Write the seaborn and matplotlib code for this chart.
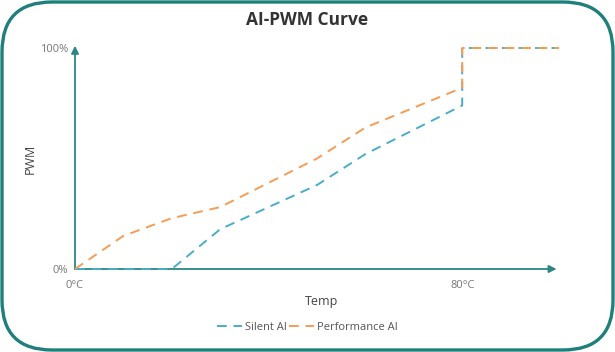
import numpy as np
import pandas as pd
import seaborn as sns
import matplotlib
matplotlib.use('Agg')
import matplotlib.pyplot as plt
from matplotlib.patches import FancyBboxPatch
from matplotlib.transforms import IdentityTransform
from matplotlib.lines import Line2D

# data (temp in degC, pwm in %)
temp = [0, 10, 20, 30, 50, 60, 80, 80, 100]
silent_pwm = [0, 0, 0, 18, 38, 52, 74, 100, 100]
perf_pwm = [0, 15, 23, 28, 50, 64, 82, 100, 100]
series_names = ['Silent AI', 'Performance AI']
x_ticks = [0, 80]
x_tick_labels = ['0°C', '80°C']
y_ticks = [0, 100]
y_tick_labels = ['0%', '100%']

df = pd.DataFrame({
    'temp': temp * 2,
    'pwm': silent_pwm + perf_pwm,
    'mode': [series_names[0]] * len(temp) + [series_names[1]] * len(temp),
})

sns.set_style('white')
plt.rcParams['font.family'] = ['Open Sans', 'DejaVu Sans']

teal = '#2b8784'
blue = '#4aadc8'
orange = '#f59c56'

fig = plt.figure(figsize=(6.15, 3.52), dpi=100)
ax = fig.add_axes([75 / 615, 83 / 352, 4.84 * 102 / 615, 221 / 352])

sns.lineplot(data=df, x='temp', y='pwm', hue='mode', palette=[blue, orange],
             estimator=None, sort=False, ax=ax, lw=1.4, legend=False)
for line in ax.lines:
    line.set_linestyle((0, (5, 3.5)))
    line.set_clip_on(False)

ax.set_xlim(0, 102)
ax.set_ylim(0, 100)
for s in ax.spines.values():
    s.set_visible(False)

# axis arrows
ax.annotate('', xy=(99.5, 0), xytext=(0, 0),
            arrowprops=dict(arrowstyle='-|>', color=teal, lw=1.3,
                            mutation_scale=11, shrinkA=0, shrinkB=0),
            annotation_clip=False, zorder=1)
ax.annotate('', xy=(0, 101), xytext=(0, 0),
            arrowprops=dict(arrowstyle='-|>', color=teal, lw=1.3,
                            mutation_scale=11, shrinkA=0, shrinkB=0),
            annotation_clip=False, zorder=1)

ax.set_xticks(x_ticks, x_tick_labels)
ax.set_yticks(y_ticks, y_tick_labels)
ax.tick_params(length=0, labelsize=8, labelcolor='#777777')
ax.tick_params(axis='x', pad=8)
ax.tick_params(axis='y', pad=5)
ax.set_xlabel('Temp', fontsize=9, color='#444444', labelpad=3)
ax.set_ylabel('PWM', fontsize=9, color='#444444', labelpad=2)

handles = [Line2D([], [], color=c, lw=1.4, ls=(0, (5, 3.5))) for c in [blue, orange]]
fig.legend(handles, series_names, loc='center', bbox_to_anchor=(0.5, 1 - 327 / 352),
           ncol=2, frameon=False, fontsize=8, handlelength=2.2, handletextpad=0.3,
           columnspacing=0.2, labelcolor='#555555')

fig.text(0.5, 1 - 20 / 352, 'AI-PWM Curve', ha='center', va='center',
         fontsize=12.5, fontweight='bold', color='#333333')

frame = FancyBboxPatch((2, 2), 611, 348, boxstyle='round,pad=0,rounding_size=50',
                       transform=IdentityTransform(), fill=False, ec='#1e7f7b', lw=2.4)
fig.patches.append(frame)

plt.savefig('out.png', dpi=100)
